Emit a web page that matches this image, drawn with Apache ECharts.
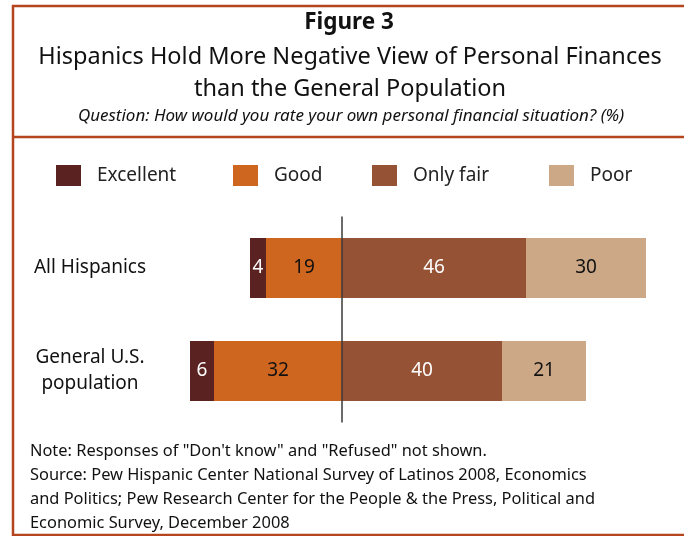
<!DOCTYPE html>
<html>
<head>
<meta charset="utf-8">
<script src="https://cdn.jsdelivr.net/npm/echarts@6/dist/echarts.min.js"></script>
<style>
  html, body { margin: 0; padding: 0; background: #fff; }
  #chart { width: 684px; height: 536px; }
</style>
</head>
<body>
<div id="chart"></div>
<script>
// Survey groups (top to bottom)
const categories = ['All Hispanics', 'General U.S.\npopulation'];

// Share of respondents rating their finances (%)
const excellent = [4, 6];
const good = [19, 32];
const onlyFair = [46, 40];
const poor = [30, 21];

const legendNames = ['Excellent', 'Good', 'Only fair', 'Poor'];

const titleLines = [
  'Hispanics Hold More Negative View of Personal Finances',
  'than the General Population'
];
const questionText = 'Question: How would you rate your own personal financial situation? (%)';
const noteLines = [
  'Note: Responses of "Don\'t know" and "Refused" not shown.',
  'Source: Pew Hispanic Center National Survey of Latinos 2008, Economics',
  'and Politics; Pew Research Center for the People & the Press, Political and',
  'Economic Survey, December 2008'
];

const FONT = '"Noto Sans", sans-serif';
const FRAME = '#b5451f';
const colors = {
  'Excellent': '#5a2220',
  'Good': '#cf6620',
  'Only fair': '#965234',
  'Poor': '#cda887'
};
const labelColors = {
  'Excellent': '#ffffff',
  'Good': '#111111',
  'Only fair': '#ffffff',
  'Poor': '#111111'
};

function barSeries(name, values, negative) {
  return {
    name: name,
    type: 'bar',
    stack: 'total',
    barWidth: 60,
    data: values.map(v => negative ? -v : v),
    itemStyle: { color: colors[name] },
    label: {
      show: true,
      position: 'inside',
      fontFamily: FONT,
      fontSize: 19,
      color: labelColors[name],
      formatter: p => String(Math.abs(p.value))
    }
  };
}

// Negative side stacks outward from zero: Good first, then Excellent
const seriesList = [
  barSeries('Good', good, true),
  barSeries('Excellent', excellent, true),
  barSeries('Only fair', onlyFair, false),
  barSeries('Poor', poor, false)
];
seriesList[0].markLine = {
  silent: true,
  symbol: 'none',
  label: { show: false },
  lineStyle: { color: '#3a3a3a', width: 1.5, type: 'solid' },
  data: [{ xAxis: 0 }]
};

const legendLeft = [56, 233, 372, 549];
const legends = legendNames.map((n, i) => ({
  data: [n],
  left: legendLeft[i],
  top: 165,
  padding: 0,
  icon: 'rect',
  itemWidth: 25,
  itemHeight: 21,
  selectedMode: false,
  textStyle: { fontFamily: FONT, fontSize: 19, color: '#222', padding: [0, 0, 0, 11] }
}));

const graphics = [
  // frame and title separator
  { type: 'polyline', silent: true, z: 10,
    shape: { points: [[700, 6], [13, 6], [13, 535], [700, 535]] },
    style: { stroke: FRAME, lineWidth: 2.5, fill: null } },
  { type: 'line', silent: true, z: 10,
    shape: { x1: 13, y1: 137, x2: 700, y2: 137 },
    style: { stroke: FRAME, lineWidth: 2.5 } },
  { type: 'text', x: 349, y: 23, silent: true,
    style: { text: 'Figure 3', fontFamily: FONT, fontWeight: 'bold', fontSize: 22.5, fill: '#111',
             textAlign: 'center', textVerticalAlign: 'middle' } },
  { type: 'text', x: 350, y: 57, silent: true,
    style: { text: titleLines[0], fontFamily: FONT, fontSize: 23.5, fill: '#111',
             textAlign: 'center', textVerticalAlign: 'middle' } },
  { type: 'text', x: 350, y: 89, silent: true,
    style: { text: titleLines[1], fontFamily: FONT, fontSize: 23.5, fill: '#111',
             textAlign: 'center', textVerticalAlign: 'middle' } },
  { type: 'text', x: 351, y: 116, silent: true,
    style: { text: questionText, fontFamily: FONT, fontStyle: 'italic', fontSize: 17, fill: '#111',
             textAlign: 'center', textVerticalAlign: 'middle' } }
];
noteLines.forEach((t, i) => {
  graphics.push({ type: 'text', x: 30, y: 451 + i * 24.2, silent: true,
    style: { text: t, fontFamily: FONT, fontSize: 16.4, fill: '#111',
             textAlign: 'left', textVerticalAlign: 'middle' } });
});

const chart = echarts.init(document.getElementById('chart'), null, { renderer: 'canvas' });
chart.setOption({
  animation: false,
  backgroundColor: '#ffffff',
  legend: legends,
  grid: { left: 150, width: 520, top: 216.5, height: 206, containLabel: false },
  xAxis: {
    type: 'value', min: -48, max: 82,
    axisLine: { show: false }, axisTick: { show: false },
    axisLabel: { show: false }, splitLine: { show: false }
  },
  yAxis: {
    type: 'category', data: categories, inverse: true,
    axisLine: { show: false }, axisTick: { show: false },
    axisLabel: { margin: 60, align: 'center', fontFamily: FONT, fontSize: 19, color: '#111', lineHeight: 26 }
  },
  series: seriesList,
  graphic: graphics
});
</script>
</body>
</html>
